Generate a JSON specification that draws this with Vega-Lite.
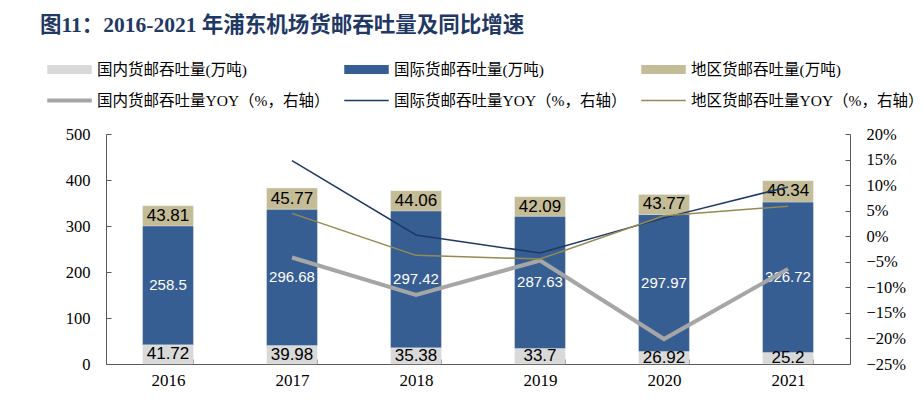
{
  "$schema": "https://vega.github.io/schema/vega-lite/v6.json",
  "width": 744,
  "height": 230,
  "autosize": {"type": "none"},
  "padding": {"left": 106, "top": 134, "right": 73, "bottom": 35},
  "background": "white",
  "title": {
    "text": "图11：2016-2021 年浦东机场货邮吞吐量及同比增速",
    "anchor": "start",
    "frame": "group",
    "dx": -66,
    "offset": 11,
    "font": "Liberation Serif, Noto Sans CJK SC",
    "fontSize": 21.5,
    "fontWeight": "bold",
    "color": "#1f3864"
  },
  "config": {
    "view": {"stroke": null},
    "axis": {
      "grid": false,
      "domainColor": "#595959",
      "tickColor": "#595959",
      "labelFont": "Liberation Serif",
      "labelFontSize": 16.5,
      "labelColor": "#000000",
      "title": null
    }
  },
  "layer": [
    {
      "data": {
        "values": [
          {"year": "2016", "series": "国内货邮吞吐量(万吨)", "value": 41.72},
          {"year": "2016", "series": "国际货邮吞吐量(万吨)", "value": 258.5},
          {"year": "2016", "series": "地区货邮吞吐量(万吨)", "value": 43.81},
          {"year": "2017", "series": "国内货邮吞吐量(万吨)", "value": 39.98},
          {"year": "2017", "series": "国际货邮吞吐量(万吨)", "value": 296.68},
          {"year": "2017", "series": "地区货邮吞吐量(万吨)", "value": 45.77},
          {"year": "2018", "series": "国内货邮吞吐量(万吨)", "value": 35.38},
          {"year": "2018", "series": "国际货邮吞吐量(万吨)", "value": 297.42},
          {"year": "2018", "series": "地区货邮吞吐量(万吨)", "value": 44.06},
          {"year": "2019", "series": "国内货邮吞吐量(万吨)", "value": 33.7},
          {"year": "2019", "series": "国际货邮吞吐量(万吨)", "value": 287.63},
          {"year": "2019", "series": "地区货邮吞吐量(万吨)", "value": 42.09},
          {"year": "2020", "series": "国内货邮吞吐量(万吨)", "value": 26.92},
          {"year": "2020", "series": "国际货邮吞吐量(万吨)", "value": 297.97},
          {"year": "2020", "series": "地区货邮吞吐量(万吨)", "value": 43.77},
          {"year": "2021", "series": "国内货邮吞吐量(万吨)", "value": 25.2},
          {"year": "2021", "series": "国际货邮吞吐量(万吨)", "value": 326.72},
          {"year": "2021", "series": "地区货邮吞吐量(万吨)", "value": 46.34}
        ]
      },
      "transform": [
        {"stack": "value", "groupby": ["year"], "sort": [{"field": "series", "order": "ascending"}], "as": ["v0", "v1"]},
        {"calculate": "(datum.v0 + datum.v1) / 2", "as": "mid"}
      ],
      "layer": [
        {
          "mark": {"type": "bar", "stroke": "#ffffff", "strokeOpacity": 0.25, "strokeWidth": 1},
          "encoding": {
            "x": {
              "field": "year", "type": "ordinal",
              "scale": {"paddingInner": 0.59, "paddingOuter": 0.295},
              "axis": {"labelAngle": 0, "labelFontSize": 17, "tickBand": "extent", "tickSize": -5, "labelPadding": 13, "domainColor": "#595959"}
            },
            "y": {
              "field": "v0", "type": "quantitative",
              "scale": {"domain": [0, 500], "nice": false},
              "axis": {"orient": "left", "values": [0, 100, 200, 300, 400, 500], "tickSize": -5, "labelPadding": 21}
            },
            "y2": {"field": "v1"},
            "color": {
              "field": "series", "type": "nominal",
              "scale": {
                "domain": ["国内货邮吞吐量(万吨)", "国际货邮吞吐量(万吨)", "地区货邮吞吐量(万吨)", "国内货邮吞吐量YOY（%，右轴）", "国际货邮吞吐量YOY（%，右轴）", "地区货邮吞吐量YOY（%，右轴）"],
                "range": ["#d9d9d9", "#375e92", "#c4bc96", "#a6a6a6", "#1f3864", "#948a54"]
              },
              "legend": {
                "orient": "none",
                "legendX": -59,
                "legendY": -87,
                "title": null,
                "columns": 3,
                "direction": "horizontal",
                "columnPadding": 14,
                "rowPadding": -3,
                "symbolSize": 1980,
                "symbolType": "M-1,-0.2H1V0.2H-1Z",
                "labelOffset": 5,
                "labelLimit": 400,
                "labelFont": "Liberation Serif, Noto Sans CJK SC",
                "labelFontSize": 15.5,
                "labelColor": "#000000",
                "encode": {
                  "symbols": {
                    "update": {
                      "shape": {"signal": "datum.value === '国内货邮吞吐量YOY（%，右轴）' ? 'M-1,-0.09H1V0.09H-1Z' : (indexof(datum.value, 'YOY') >= 0 ? 'M-1,-0.035H1V0.035H-1Z' : 'M-1,-0.2H1V0.2H-1Z')"},
                      "size": {"value": 1980},
                      "fill": {"scale": "color", "field": "value"},
                      "stroke": {"value": "transparent"},
                      "strokeWidth": {"value": 0},
                      "opacity": {"value": 1},
                      "fillOpacity": {"value": 1}
                    }
                  }
                }
              }
            }
          }
        },
        {
          "transform": [{"filter": "datum.series !== '国际货邮吞吐量(万吨)'"}],
          "mark": {"type": "text", "font": "Liberation Sans", "fontSize": 17, "color": "#000000", "baseline": "middle", "align": "center"},
          "encoding": {
            "x": {"field": "year", "type": "ordinal"},
            "y": {"field": "mid", "type": "quantitative"},
            "text": {"field": "value", "type": "quantitative", "format": ".4~"}
          }
        },
        {
          "transform": [{"filter": "datum.series === '国际货邮吞吐量(万吨)'"}],
          "mark": {"type": "text", "font": "Liberation Sans", "fontSize": 15, "color": "#ffffff", "baseline": "middle", "align": "center"},
          "encoding": {
            "x": {"field": "year", "type": "ordinal"},
            "y": {"field": "mid", "type": "quantitative"},
            "text": {"field": "value", "type": "quantitative", "format": ".5~"}
          }
        }
      ]
    },
    {
      "data": {
        "values": [
          {"year": "2017", "series": "国内货邮吞吐量YOY（%，右轴）", "yoy": -0.0417},
          {"year": "2018", "series": "国内货邮吞吐量YOY（%，右轴）", "yoy": -0.115},
          {"year": "2019", "series": "国内货邮吞吐量YOY（%，右轴）", "yoy": -0.0475},
          {"year": "2020", "series": "国内货邮吞吐量YOY（%，右轴）", "yoy": -0.2012},
          {"year": "2021", "series": "国内货邮吞吐量YOY（%，右轴）", "yoy": -0.0639},
          {"year": "2017", "series": "国际货邮吞吐量YOY（%，右轴）", "yoy": 0.1477},
          {"year": "2018", "series": "国际货邮吞吐量YOY（%，右轴）", "yoy": 0.0025},
          {"year": "2019", "series": "国际货邮吞吐量YOY（%，右轴）", "yoy": -0.0329},
          {"year": "2020", "series": "国际货邮吞吐量YOY（%，右轴）", "yoy": 0.0359},
          {"year": "2021", "series": "国际货邮吞吐量YOY（%，右轴）", "yoy": 0.0965},
          {"year": "2017", "series": "地区货邮吞吐量YOY（%，右轴）", "yoy": 0.0447},
          {"year": "2018", "series": "地区货邮吞吐量YOY（%，右轴）", "yoy": -0.0374},
          {"year": "2019", "series": "地区货邮吞吐量YOY（%，右轴）", "yoy": -0.0447},
          {"year": "2020", "series": "地区货邮吞吐量YOY（%，右轴）", "yoy": 0.0399},
          {"year": "2021", "series": "地区货邮吞吐量YOY（%，右轴）", "yoy": 0.0587}
        ]
      },
      "mark": {"type": "line"},
      "encoding": {
        "x": {"field": "year", "type": "ordinal"},
        "y": {
          "field": "yoy", "type": "quantitative",
          "scale": {"domain": [-0.25, 0.2], "nice": false, "zero": false},
          "axis": {"orient": "right", "format": ".0%", "values": [-0.25, -0.2, -0.15, -0.1, -0.05, 0, 0.05, 0.1, 0.15, 0.2], "tickSize": -5, "labelPadding": 21}
        },
        "color": {
          "field": "series", "type": "nominal",
          "legend": {
            "orient": "none",
            "legendX": -59,
            "legendY": -87,
            "title": null,
            "columns": 3,
            "direction": "horizontal",
            "columnPadding": 14,
            "rowPadding": -3,
            "symbolSize": 1980,
            "symbolType": "M-1,-0.2H1V0.2H-1Z",
            "labelOffset": 5,
            "labelLimit": 400,
            "labelFont": "Liberation Serif, Noto Sans CJK SC",
            "labelFontSize": 15.5,
            "labelColor": "#000000",
            "encode": {
              "symbols": {
                "update": {
                  "shape": {"signal": "datum.value === '国内货邮吞吐量YOY（%，右轴）' ? 'M-1,-0.09H1V0.09H-1Z' : (indexof(datum.value, 'YOY') >= 0 ? 'M-1,-0.035H1V0.035H-1Z' : 'M-1,-0.2H1V0.2H-1Z')"},
                  "size": {"value": 1980},
                  "fill": {"scale": "color", "field": "value"},
                  "stroke": {"value": "transparent"},
                  "strokeWidth": {"value": 0},
                  "opacity": {"value": 1},
                  "fillOpacity": {"value": 1}
                }
              }
            }
          }
        },
        "strokeWidth": {
          "field": "series", "type": "nominal",
          "scale": {"type": "ordinal", "domain": ["国内货邮吞吐量YOY（%，右轴）", "国际货邮吞吐量YOY（%，右轴）", "地区货邮吞吐量YOY（%，右轴）"], "range": [4, 1.5, 1.5]},
          "legend": null
        }
      }
    }
  ],
  "resolve": {"scale": {"y": "independent"}}
}
